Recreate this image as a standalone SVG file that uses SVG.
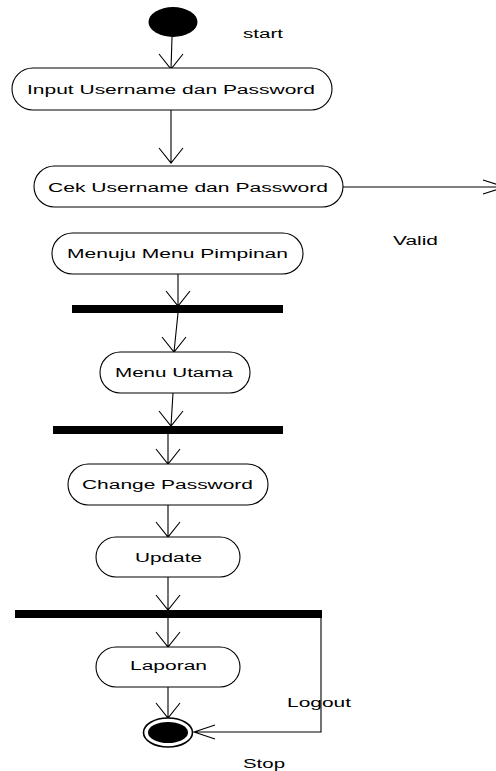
<svg xmlns="http://www.w3.org/2000/svg" width="496" height="771" viewBox="0 0 496 771">
  <style>
    .act { fill: #ffffff; stroke: #000000; stroke-width: 1.1; }
    .bar { fill: #000000; }
    .lbl { font-family: "Liberation Sans", Arial, sans-serif; font-size: 13.5px; fill: #000000; }
    .edge { fill: none; stroke: #000000; stroke-width: 1.1; }
  </style>
  <rect width="496" height="771" fill="#ffffff"/>

  <!-- connectors -->
  <g id="connectors">
    <path class="edge" d="M172,37 L171,69 M159,54 L171,69 L183,54"/>
    <path class="edge" d="M171,110 L171,163 M159,148 L171,163 L183,148"/>
    <path class="edge" d="M343,187 L505,187 M483,180 L505,187 L483,194"/>
    <path class="edge" d="M178,274 L178,306 M166,291 L178,306 L190,291"/>
    <path class="edge" d="M178,313 L174,352 M162,337 L174,352 L186,337"/>
    <path class="edge" d="M173,393 L171,426 M159,411 L171,426 L183,411"/>
    <path class="edge" d="M168,434 L168,464 M156,449 L168,464 L180,449"/>
    <path class="edge" d="M168,505 L168,537 M156,522 L168,537 L180,522"/>
    <path class="edge" d="M168,577 L168,610 M156,595 L168,610 L180,595"/>
    <path class="edge" d="M168,618 L168,647 M156,632 L168,647 L180,632"/>
    <path class="edge" d="M168,687 L168,718 M156,703 L168,718 L180,703"/>
    <path class="edge" d="M321,618 L321,732 L194,732 M215,725 L194,732 L215,739"/>
  </g>

  <!-- labels are widened horizontally with scale(1.55,1) -->
  <g id="start">
    <ellipse cx="173" cy="22" rx="24.5" ry="15" fill="#000000"/>
    <text class="lbl" transform="translate(243,38) scale(1.55,1)" textLength="25.8" lengthAdjust="spacingAndGlyphs">start</text>
  </g>

  <g id="input">
    <rect class="act" x="12" y="68" width="320" height="42" rx="21" ry="21"/>
    <text class="lbl" transform="translate(27,94) scale(1.55,1)" textLength="185.8" lengthAdjust="spacingAndGlyphs">Input Username dan Password</text>
  </g>

  <g id="cek">
    <rect class="act" x="34" y="166" width="309" height="41" rx="20.5" ry="20.5"/>
    <text class="lbl" transform="translate(48,192) scale(1.55,1)" textLength="180.6" lengthAdjust="spacingAndGlyphs">Cek Username dan Password</text>
  </g>

  <g id="valid">
    <text class="lbl" transform="translate(393,245) scale(1.55,1)" textLength="29" lengthAdjust="spacingAndGlyphs">Valid</text>
  </g>

  <g id="menuju">
    <rect class="act" x="52" y="233" width="251" height="41" rx="20.5" ry="20.5"/>
    <text class="lbl" transform="translate(67,258) scale(1.55,1)" textLength="142.6" lengthAdjust="spacingAndGlyphs">Menuju Menu Pimpinan</text>
  </g>

  <g id="fork1">
    <rect class="bar" x="72" y="305" width="211" height="8"/>
  </g>

  <g id="menu-utama">
    <rect class="act" x="100" y="352" width="150" height="41" rx="20.5" ry="20.5"/>
    <text class="lbl" transform="translate(115,377) scale(1.55,1)" textLength="76.1" lengthAdjust="spacingAndGlyphs">Menu Utama</text>
  </g>

  <g id="fork2">
    <rect class="bar" x="53" y="426" width="230" height="8"/>
  </g>

  <g id="change-password">
    <rect class="act" x="68" y="464" width="200" height="41" rx="20.5" ry="20.5"/>
    <text class="lbl" transform="translate(82,489) scale(1.55,1)" textLength="110.3" lengthAdjust="spacingAndGlyphs">Change Password</text>
  </g>

  <g id="update">
    <rect class="act" x="96" y="537" width="144" height="40" rx="20" ry="20"/>
    <text class="lbl" transform="translate(135,562) scale(1.55,1)" textLength="43.2" lengthAdjust="spacingAndGlyphs">Update</text>
  </g>

  <g id="fork3">
    <rect class="bar" x="15" y="610" width="307" height="8"/>
  </g>

  <g id="laporan">
    <rect class="act" x="96" y="647" width="144" height="40" rx="20" ry="20"/>
    <text class="lbl" transform="translate(130,670) scale(1.55,1)" textLength="49.7" lengthAdjust="spacingAndGlyphs">Laporan</text>
  </g>

  <g id="logout">
    <text class="lbl" transform="translate(287,707) scale(1.55,1)" textLength="41.3" lengthAdjust="spacingAndGlyphs">Logout</text>
  </g>

  <g id="stop">
    <ellipse cx="168" cy="732.5" rx="24.5" ry="14.5" fill="#ffffff" stroke="#000000" stroke-width="1.6"/>
    <ellipse cx="168" cy="732.5" rx="20" ry="10.5" fill="#000000"/>
    <text class="lbl" transform="translate(243,768) scale(1.55,1)" textLength="27.1" lengthAdjust="spacingAndGlyphs">Stop</text>
  </g>
</svg>
